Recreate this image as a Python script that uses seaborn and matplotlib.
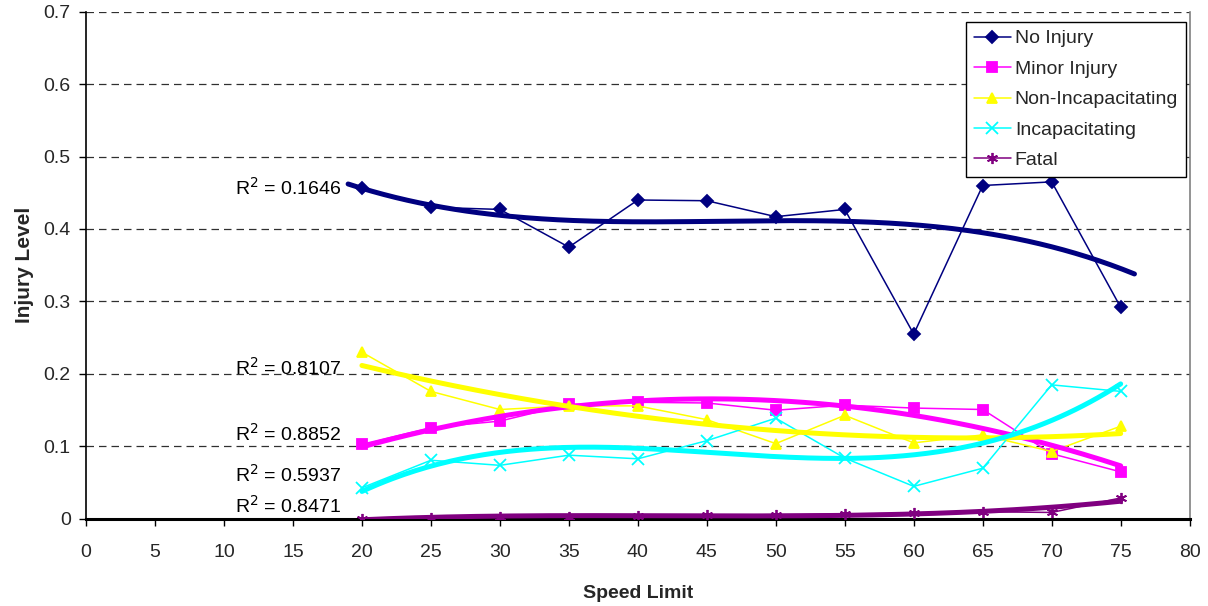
import numpy as np
import pandas as pd
import matplotlib
matplotlib.use("Agg")
import matplotlib.pyplot as plt
import seaborn as sns

# Share of crashes at each injury level by posted speed limit
speed_limit = [20, 25, 30, 35, 40, 45, 50, 55, 60, 65, 70, 75]
no_injury = [0.457, 0.430, 0.427, 0.375, 0.440, 0.439, 0.417, 0.427, 0.255, 0.460, 0.465, 0.292]
minor_injury = [0.103, 0.126, 0.135, 0.158, 0.161, 0.160, 0.150, 0.157, 0.153, 0.151, 0.090, 0.065]
non_incapacitating = [0.230, 0.176, 0.151, 0.156, 0.156, 0.137, 0.104, 0.143, 0.105, 0.116, 0.093, 0.128]
incapacitating = [0.043, 0.081, 0.074, 0.088, 0.083, 0.108, 0.139, 0.084, 0.045, 0.070, 0.185, 0.176]
fatal = [0.000, 0.002, 0.003, 0.003, 0.004, 0.005, 0.006, 0.007, 0.008, 0.010, 0.009, 0.029]

series_names = ["No Injury", "Minor Injury", "Non-Incapacitating", "Incapacitating", "Fatal"]
r_squared = [0.1646, 0.8852, 0.8107, 0.5937, 0.8471]
# polynomial trendline order and span (backward / forward forecast) per series
trend_order = [3, 2, 2, 3, 3]
trend_start = [19, 20, 20, 20, 20]
trend_end = [76, 75, 75, 75, 75]
x_ticks = list(range(0, 81, 5))
y_ticks = [0, 0.1, 0.2, 0.3, 0.4, 0.5, 0.6, 0.7]

values = [no_injury, minor_injury, non_incapacitating, incapacitating, fatal]
colors = ["#000080", "#FF00FF", "#FFFF00", "#00FFFF", "#800080"]
markers = ["D", "s", "^", "x", (6, 2, 0)]
marker_sizes = [6.5, 7, 7.5, 8, 8]

df = pd.DataFrame({"Speed Limit": speed_limit})
for name, vals in zip(series_names, values):
    df[name] = vals

sns.set_theme(style="ticks")
plt.rcParams["font.family"] = ["Liberation Sans", "DejaVu Sans"]

fig = plt.figure(figsize=(12.08, 6.06), dpi=100)
ax = fig.add_axes([0.0712, 0.1436, 0.9136, 0.8374])

# raw series
for name, col, mk, ms in zip(series_names, colors, markers, marker_sizes):
    sns.lineplot(data=df, x="Speed Limit", y=name, ax=ax, color=col, lw=1.1,
                 marker=mk, markersize=ms, markeredgecolor=col, markerfacecolor=col,
                 markeredgewidth=1.3, label=name, zorder=3)

# polynomial trendlines
x = df["Speed Limit"].to_numpy()
for name, col, order, x0, x1 in zip(series_names, colors, trend_order, trend_start, trend_end):
    y = df[name].to_numpy()
    coef = np.polyfit(x, y, order)
    xs = np.linspace(x0, x1, 200)
    trend = pd.DataFrame({"x": xs, "y": np.polyval(coef, xs)})
    sns.lineplot(data=trend, x="x", y="y", ax=ax, color=col, lw=3.6,
                 zorder=4, legend=False, solid_capstyle="round")

# R² annotations beside the start of each trendline
label_y = {"No Injury": 0.457, "Minor Injury": 0.117, "Non-Incapacitating": 0.208,
           "Incapacitating": 0.061, "Fatal": 0.018}
for name, r2 in zip(series_names, r_squared):
    ax.text(18.5, label_y[name], f"R$^2$ = {r2:.4f}", ha="right", va="center",
            fontsize=14, color="black", zorder=5)

ax.set_xlim(0, 80)
ax.set_ylim(0, 0.7)
ax.set_xticks(x_ticks)
ax.set_yticks(y_ticks)
ax.set_yticklabels(["0" if t == 0 else f"{t:g}" for t in y_ticks])
ax.tick_params(axis="both", direction="out", length=5, width=1, color="black",
               labelsize=14)
ax.tick_params(axis="x", pad=13)
ax.tick_params(axis="y", pad=6)
ax.yaxis.grid(True, linestyle=(0, (6, 4)), color="#303030", lw=0.9)
ax.xaxis.grid(False)

ax.spines["top"].set_visible(False)
ax.spines["left"].set_color("black")
ax.spines["left"].set_linewidth(1.2)
ax.spines["bottom"].set_color("black")
ax.spines["bottom"].set_linewidth(2.2)
ax.spines["right"].set_color("#808080")
ax.spines["right"].set_linewidth(1.2)

ax.set_xlabel("Speed Limit", fontsize=14, fontweight="bold", labelpad=17)
ax.set_ylabel("Injury Level", fontsize=15, fontweight="bold", labelpad=7)

leg = ax.legend(loc="upper right", bbox_to_anchor=(0.997, 0.98), fontsize=14,
                frameon=True, fancybox=False, edgecolor="black", framealpha=1,
                borderpad=0.42, labelspacing=0.66, handlelength=1.9, handletextpad=0.2,
                borderaxespad=0)
leg.get_frame().set_linewidth(1.0)

fig.savefig("out.png", dpi=100)
